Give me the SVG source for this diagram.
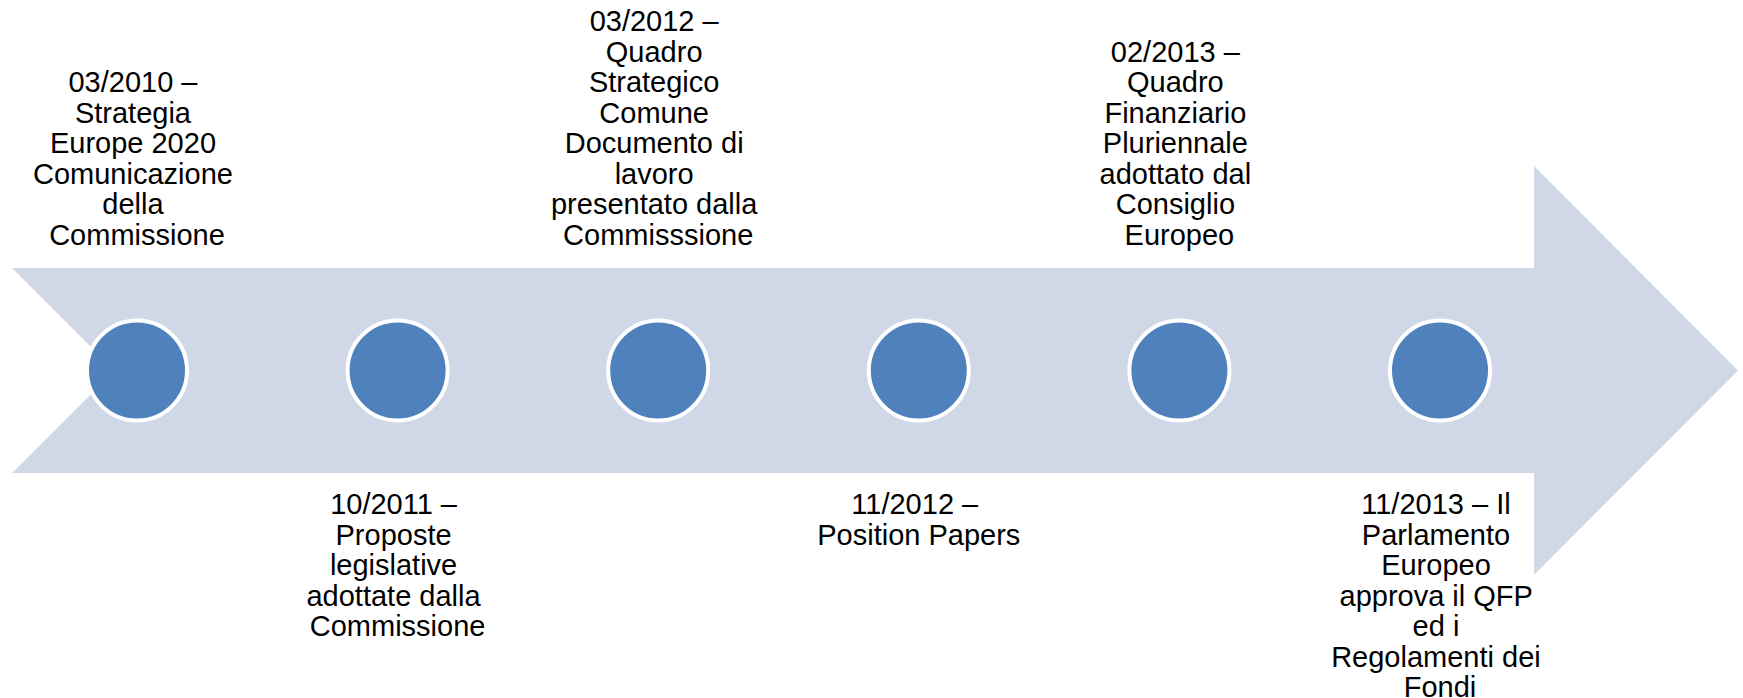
<svg xmlns="http://www.w3.org/2000/svg" width="1743" height="698" viewBox="0 0 1743 698">
  <style>
    .box { fill: #ffffff; }
    .dot { fill: #4f81bd; stroke: #ffffff; stroke-width: 4; }
    .lbl { font-family: "Liberation Sans", Arial, sans-serif; font-size: 29px; fill: #000000; text-anchor: middle; }
  </style>

  <!-- timeline band: notched tail on the left, arrowhead on the right -->
  <g id="connectors">
    <polygon id="timeline-arrow" fill="#d0d8e8"
      points="12,268 1534,268 1534,166 1738,370.5 1534,575 1534,473 12,473 114.5,370.5"/>
  </g>

  <!-- milestone 1 (label above) -->
  <g id="node-2010-03">
    <rect class="box" x="43" y="0" width="188" height="268"/>
    <circle class="dot" cx="137" cy="370.5" r="50"/>
    <text class="lbl">
      <tspan x="137" y="92">03/2010 –</tspan>
      <tspan x="137" y="122.5">Strategia</tspan>
      <tspan x="137" y="153">Europe 2020</tspan>
      <tspan x="137" y="183.5">Comunicazione</tspan>
      <tspan x="137" y="214">della</tspan>
      <tspan x="137" y="244.5">Commissione</tspan>
    </text>
  </g>

  <!-- milestone 2 (label below) -->
  <g id="node-2011-10">
    <circle class="dot" cx="397.6" cy="370.5" r="50"/>
    <text class="lbl">
      <tspan x="397.6" y="514">10/2011 –</tspan>
      <tspan x="397.6" y="544.5">Proposte</tspan>
      <tspan x="397.6" y="575">legislative</tspan>
      <tspan x="397.6" y="605.5">adottate dalla</tspan>
      <tspan x="397.6" y="636">Commissione</tspan>
    </text>
  </g>

  <!-- milestone 3 (label above) -->
  <g id="node-2012-03">
    <circle class="dot" cx="658.2" cy="370.5" r="50"/>
    <text class="lbl">
      <tspan x="658.2" y="31">03/2012 –</tspan>
      <tspan x="658.2" y="61.5">Quadro</tspan>
      <tspan x="658.2" y="92">Strategico</tspan>
      <tspan x="658.2" y="122.5">Comune</tspan>
      <tspan x="658.2" y="153">Documento di</tspan>
      <tspan x="658.2" y="183.5">lavoro</tspan>
      <tspan x="658.2" y="214">presentato dalla</tspan>
      <tspan x="658.2" y="244.5">Commisssione</tspan>
    </text>
  </g>

  <!-- milestone 4 (label below) -->
  <g id="node-2012-11">
    <circle class="dot" cx="918.8" cy="370.5" r="50"/>
    <text class="lbl">
      <tspan x="918.8" y="514">11/2012 –</tspan>
      <tspan x="918.8" y="544.5">Position Papers</tspan>
    </text>
  </g>

  <!-- milestone 5 (label above) -->
  <g id="node-2013-02">
    <circle class="dot" cx="1179.4" cy="370.5" r="50"/>
    <text class="lbl">
      <tspan x="1179.4" y="61.5">02/2013 –</tspan>
      <tspan x="1179.4" y="92">Quadro</tspan>
      <tspan x="1179.4" y="122.5">Finanziario</tspan>
      <tspan x="1179.4" y="153">Pluriennale</tspan>
      <tspan x="1179.4" y="183.5">adottato dal</tspan>
      <tspan x="1179.4" y="214">Consiglio</tspan>
      <tspan x="1179.4" y="244.5">Europeo</tspan>
    </text>
  </g>

  <!-- milestone 6 (label below; its white text box sits over the arrowhead) -->
  <g id="node-2013-11">
    <rect class="box" x="1346" y="473" width="188" height="225"/>
    <circle class="dot" cx="1440" cy="370.5" r="50"/>
    <text class="lbl">
      <tspan x="1440" y="514">11/2013 – Il</tspan>
      <tspan x="1440" y="544.5">Parlamento</tspan>
      <tspan x="1440" y="575">Europeo</tspan>
      <tspan x="1440" y="605.5">approva il QFP</tspan>
      <tspan x="1440" y="636">ed i</tspan>
      <tspan x="1440" y="666.5">Regolamenti dei</tspan>
      <tspan x="1440" y="697">Fondi</tspan>
    </text>
  </g>
</svg>
